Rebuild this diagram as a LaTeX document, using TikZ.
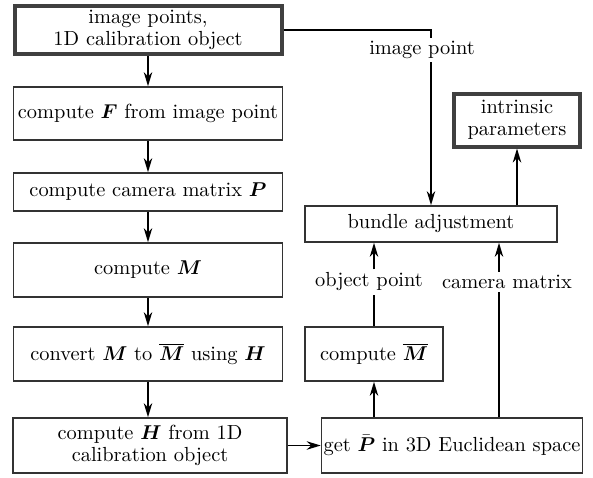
\documentclass[tikz,border=0pt]{standalone}
\usepackage{amsmath,amssymb}
\usepackage{xcolor}
\usepackage{tikz}
\usetikzlibrary{arrows.meta, positioning}
\definecolor{framegray}{RGB}{64,64,64}

\newcommand{\bv}[1]{\boldsymbol{#1}}

\begin{document}
\begin{tikzpicture}[
  x=0.5pt, y=-0.5pt,
  node distance=14.5pt,
  font=\fontsize{10.2}{12}\selectfont,
  stepbox/.style={draw=black!80, line width=0.8pt, fill=white,
                  minimum width=134.5pt, minimum height=26.5pt,
                  inner sep=1pt, align=center},
  endbox/.style={stepbox, draw=framegray, line width=2pt},
  arrow/.style={-{Stealth[length=7pt, width=4.2pt, inset=2.2pt]}, line width=0.95pt},
  plain/.style={line width=0.95pt},
  lbl/.style={fill=white, inner sep=1.5pt},
]
\useasboundingbox (0,0) rectangle (593,477);

%% Left column
\node[endbox, minimum width=133.5pt, minimum height=24pt] (src) at (148,30)
     {image points,\\[-1pt]1D calibration object};
\node[stepbox] (compF) at (148,113.5) {compute $\bv{F}$ from image point};
\node[stepbox, minimum height=19pt] (compP) at (148,192) {compute camera matrix $\bv{P}$};
\node[stepbox, minimum height=27pt] (compM) at (148,270) {compute $\bv{M}$};
\node[stepbox, minimum height=27pt] (conv) at (148,354)
     {convert $\bv{M}$ to $\overline{\bv{M}}$ using $\bv{H}$};
\node[stepbox, minimum width=137pt, minimum height=27.5pt] (compH) at (150,445.5)
     {compute $\bv{H}$ from 1D\\[-1pt]calibration object};

%% Right column
\node[stepbox, minimum width=126pt, minimum height=18pt] (bundle) at (431,224)
     {bundle adjustment};
\node[endbox, minimum width=63pt, minimum height=26.5pt] (intr) at (517,120)
     {intrinsic\\[-1pt]parameters};
\node[stepbox, minimum width=69pt, minimum height=27pt] (mbar) at (374,354)
     {compute $\overline{\bv{M}}$};
\node[stepbox, minimum width=127pt, minimum height=27.5pt] (getP) at (452,445.5)
     {get $\bar{\bv{P}}$ in 3D Euclidean space};

%% Labels on lines
\node[lbl] (imgpt) at (422,50)  {image point};
\node[lbl] (objpt) at (369,282) {object point};
\node[lbl] (campt) at (507,282) {camera matrix};
\coordinate (cm) at (499,0);

%% Arrows
\draw[arrow] (src)   -- (compF);
\draw[arrow] (compF) -- (compP);
\draw[arrow] (compP) -- (compM);
\draw[arrow] (compM) -- (conv);
\draw[arrow] (conv)  -- (compH.north -| conv);
\draw[arrow] (compH) -- (getP);
\draw[arrow] (getP.north -| mbar) -- (mbar.south);
\draw[plain] (src.east) -| (imgpt.north -| bundle);
\draw[arrow] (imgpt.south -| bundle) -- (bundle.north);
\draw[plain] (mbar.north) -- (objpt.south -| mbar);
\draw[arrow] (objpt.north -| mbar) -- (bundle.south -| mbar);
\draw[plain] (getP.north -| cm) -- (campt.south -| cm);
\draw[arrow] (campt.north -| cm) -- (bundle.south -| cm);
\draw[arrow] (bundle.north -| intr) -- (intr.south);

\end{tikzpicture}
\end{document}
